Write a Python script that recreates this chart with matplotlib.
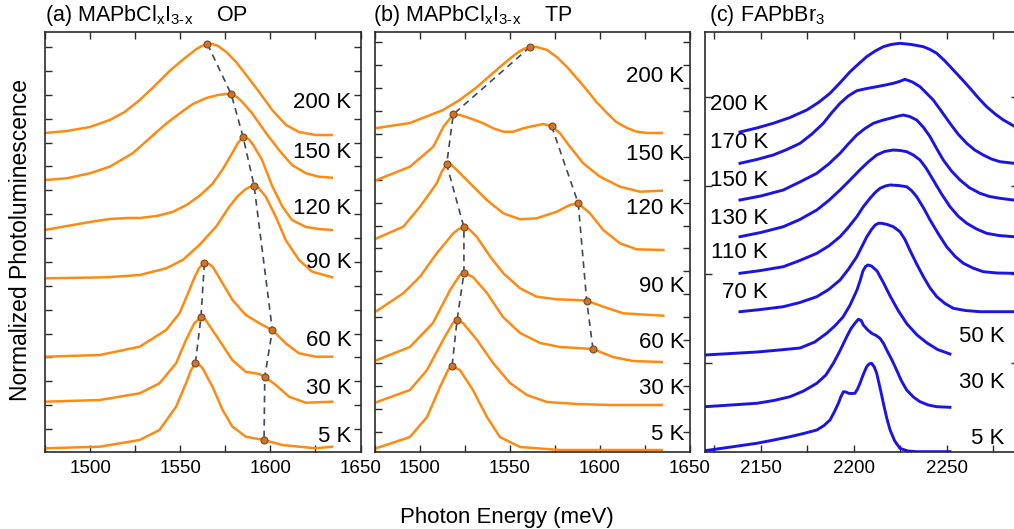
import numpy as np
import matplotlib.pyplot as plt
from matplotlib.ticker import MultipleLocator

plt.rcParams['font.family'] = ['Liberation Sans', 'DejaVu Sans']
plt.rcParams['mathtext.fontset'] = 'custom'
plt.rcParams['mathtext.rm'] = 'Liberation Sans'
plt.rcParams['mathtext.it'] = 'Liberation Sans'
plt.rcParams['mathtext.default'] = 'regular'

# ---------------- data (energies in meV, PL normalized + offset) ----------------
# (a) MAPbClxI3-x, orthorhombic phase
a_temps = ['200 K', '150 K', '120 K', '90 K', '60 K', '30 K', '5 K']
a_label_y = [350, 299, 244, 189, 112, 64, 15]
a_energy = [
    [1475, 1487.2, 1499.9, 1510.9, 1519.2, 1527.5, 1535.8, 1544.1, 1551.2, 1555.5, 1559, 1562, 1565, 1568, 1571, 1575.6, 1581, 1586.6, 1593.8, 1601, 1608.7, 1615.9, 1625, 1634],
    [1475, 1487.2, 1499.9, 1510.9, 1523.6, 1533, 1542.4, 1550, 1557, 1564.5, 1571, 1575, 1578.3, 1581.5, 1585, 1589.9, 1597.7, 1604.8, 1612, 1619.8, 1626.9, 1634.1],
    [1475, 1487.2, 1499.9, 1510.9, 1520.3, 1527.5, 1536.9, 1545.7, 1553.5, 1560.6, 1567.8, 1573.3, 1578.9, 1582, 1584.9, 1588, 1590.5, 1595.4, 1601, 1606.5, 1612, 1619.8, 1626.9, 1634.1],
    [1475.9, 1509.1, 1527.5, 1542.2, 1551.4, 1560.6, 1569.9, 1577.2, 1582, 1586, 1589, 1591, 1593.5, 1597.5, 1603, 1608.5, 1615.9, 1623.2, 1634.3],
    [1475, 1505.4, 1527.5, 1542.2, 1549.6, 1555.1, 1558, 1560.5, 1563.4, 1566, 1568, 1573.5, 1579, 1586.4, 1595.6, 1601.1, 1608.5, 1615.9, 1625.1, 1634.3],
    [1475, 1505.4, 1527.5, 1538.5, 1547.7, 1553.2, 1557.8, 1561.5, 1564, 1566, 1571.6, 1578.9, 1586.3, 1593.8, 1596.9, 1603, 1610.4, 1619.6, 1634.3],
    [1475, 1505.4, 1527.5, 1538.5, 1547.7, 1553.2, 1556, 1558.4, 1560.5, 1562.4, 1567.9, 1573.5, 1579, 1586.4, 1596.5, 1606.6, 1625.1, 1634.3],
]
a_pl = [
    [319, 321, 325, 332, 340, 352, 366, 381, 392, 398, 403, 406, 408, 408, 406, 400, 390, 377, 360, 342, 327, 320, 317, 317],
    [272, 273.7, 278.7, 285.3, 298.7, 313.7, 328.7, 339, 348, 354, 357, 358, 357.7, 355, 349, 338.7, 318.7, 302, 287, 278.7, 275.3, 274.3],
    [222, 226, 230, 233, 234, 234, 236, 240, 247, 256, 268, 282, 299, 309, 315, 313, 307, 292, 266, 246, 232, 225, 223, 222],
    [173.7, 174.7, 177, 183.7, 192, 207, 225.3, 245.3, 256, 262.5, 265.5, 266, 264, 255.3, 235.3, 212, 192, 180.3, 174.7],
    [95.3, 97, 105.3, 122, 138.7, 162, 175, 184, 188.7, 188, 185.3, 168.7, 152, 137, 127, 122, 108.7, 98.7, 95.3, 95.3],
    [50.3, 52, 58.7, 68.7, 88.7, 112, 128.7, 134.7, 132.5, 127, 112, 92, 80.3, 78, 75.3, 67, 55.3, 49.3, 50.3],
    [3.7, 5.3, 12, 22, 45.3, 68.7, 82, 88.7, 87.5, 83.7, 65.3, 42, 25.3, 15.3, 12, 7, 3.7, 5.3],
]
a_peak_hi_e = [1565.1, 1578.3, 1584.9, 1591, 1601.1, 1596.9, 1596.5]
a_peak_hi_i = [408, 357.7, 315, 266, 122, 75.3, 12]
a_peak_lo_e = [1563.4, 1561.5, 1558.4]
a_peak_lo_i = [188.7, 134.7, 88.7]

# (b) MAPbClxI3-x, tetragonal phase
b_temps = ['200 K', '150 K', '120 K', '90 K', '60 K', '30 K', '5 K']
b_label_y = [375, 297, 244, 165, 110, 64, 17]
b_energy = [
    [1476.1, 1494.4, 1512.8, 1522, 1531.7, 1538, 1544.4, 1549, 1553.9, 1557.5, 1561.1, 1565, 1570.6, 1576, 1581.7, 1587, 1592.8, 1598, 1603.9, 1609, 1615, 1620, 1626.1, 1634.4],
    [1475.9, 1494.4, 1507.4, 1513, 1518.5, 1522.2, 1527.8, 1535.2, 1540.7, 1546.3, 1551.9, 1557.4, 1563, 1568.5, 1573.1, 1577.8, 1583.3, 1590.7, 1600, 1611.1, 1622.2, 1634.3],
    [1475.9, 1490.7, 1500, 1509.3, 1512, 1514.8, 1517.5, 1520.4, 1527.8, 1537.1, 1546.3, 1555.6, 1564.8, 1575.9, 1583.3, 1587.9, 1594.4, 1601.8, 1611.1, 1620.4, 1635.2],
    [1475.9, 1490.7, 1500, 1509.3, 1518.5, 1521.5, 1524.4, 1527.5, 1531.5, 1539, 1546.3, 1555.6, 1564.8, 1575.9, 1587, 1592.6, 1601.8, 1612.9, 1635.2],
    [1476.1, 1494.4, 1507.2, 1516.7, 1522.2, 1524.4, 1529.4, 1537.2, 1546.1, 1555.6, 1566.7, 1577.8, 1587.2, 1596.1, 1607.2, 1618.3, 1634.4],
    [1476.1, 1494.4, 1503.9, 1512.8, 1518.3, 1520.6, 1523.9, 1531.7, 1540.6, 1550, 1559.4, 1570.6, 1587.2, 1605.6, 1634.4],
    [1476.1, 1494.4, 1503.9, 1511.1, 1515.6, 1517.8, 1522.2, 1529.4, 1537.2, 1544.4, 1555.6, 1577.8, 1634.4],
]
b_pl = [
    [324, 329, 342, 352, 365, 375, 385, 392, 399, 403, 405, 405, 402, 395, 385, 374, 362, 350, 339, 330, 324, 320.5, 319, 319],
    [272, 285.3, 305.3, 325.3, 337.7, 337, 333.7, 328.7, 323.7, 320.3, 320.3, 323.7, 326, 328, 326, 318.7, 305.3, 288.7, 275.3, 265.3, 260.3, 261.3],
    [213.7, 225.3, 245.3, 268.7, 280, 287.7, 287, 282, 268.7, 252, 238.7, 232.7, 233.7, 240.3, 247, 248.7, 238.7, 222, 208.7, 202.7, 202],
    [141, 158.7, 175.3, 198.7, 218.7, 223, 224.7, 222.5, 215.3, 195.3, 178.7, 163.7, 155.3, 152.7, 152, 151.3, 145.3, 138.7, 136.3],
    [92, 105, 129, 162, 177, 179, 175, 159, 135, 119, 109, 105, 104, 103, 95, 91, 90],
    [50, 62, 82, 112, 129, 132, 129, 112, 89, 69, 57, 50, 48, 47, 47],
    [4, 15, 35, 65, 82, 86, 82, 62, 35, 15, 5, 2, 2],
]
b_peak_lo_e = [1561.1, 1518.5, 1514.8, 1524.4, 1524.4, 1520.6, 1517.8]
b_peak_lo_i = [405, 337.7, 287.7, 224.7, 179, 132, 86]
b_peak_hi_e = [1573.1, 1587.9, 1592.6, 1596.1]
b_peak_hi_i = [326, 248.7, 151.3, 103]

# (c) FAPbBr3
c_temps = ['200 K', '170 K', '150 K', '130 K', '110 K', '70 K', '50 K', '30 K', '5 K']
c_label_y = [347, 309, 272, 234, 199, 159, 115, 69, 14]
c_energy = [
    [2138.8, 2147.8, 2156.7, 2165.7, 2174.7, 2181, 2187.2, 2193, 2198, 2202.5, 2206.9, 2211.5, 2215.9, 2220, 2224.8, 2231, 2237.4, 2241, 2244.6, 2249, 2253.5, 2258, 2262.5, 2267, 2271.4, 2276, 2280.4, 2286.1],
    [2138.8, 2147.8, 2156.7, 2164, 2171.1, 2177.5, 2183.6, 2188, 2192.6, 2197, 2201.6, 2207, 2212.3, 2217, 2221.2, 2224.5, 2227.5, 2231.5, 2235.6, 2239, 2242.7, 2247, 2251.7, 2256, 2260.7, 2265, 2269.6, 2274, 2278.6, 2286.1],
    [2138.8, 2150, 2162.1, 2171, 2180.1, 2186.5, 2192.6, 2197, 2201.6, 2206, 2210.5, 2215, 2219.5, 2223, 2226.6, 2230, 2233.8, 2237.5, 2241, 2244.5, 2248.1, 2252.5, 2257.1, 2262, 2267.8, 2273, 2278.6, 2285.8],
    [2138.8, 2150, 2162.1, 2171, 2180.1, 2186.5, 2192.6, 2198, 2203.2, 2208, 2212.3, 2216.5, 2221.2, 2225, 2228.4, 2232, 2235.6, 2239, 2242.7, 2247, 2251.7, 2256, 2260.7, 2266, 2271.4, 2278, 2285.8],
    [2138.8, 2150, 2162.1, 2171, 2180.1, 2186.5, 2192.6, 2197, 2201.6, 2205, 2208.7, 2211.5, 2214.1, 2217, 2219.5, 2224, 2228.4, 2231, 2233.8, 2237.5, 2241, 2245.5, 2249.9, 2254.5, 2258.9, 2264, 2269.6, 2277, 2285.8],
    [2138.8, 2150, 2162.1, 2171, 2180.1, 2186.5, 2192.6, 2197, 2201.6, 2204.5, 2207, 2209.5, 2211.5, 2213.3, 2215, 2218, 2221.2, 2224.8, 2227.5, 2230.1, 2233.8, 2237.4, 2241, 2244.6, 2249, 2253.5, 2260, 2267.8, 2285.8],
    [2120, 2134, 2148, 2160, 2171.1, 2179, 2185.6, 2190, 2194.2, 2198, 2201.7, 2203.5, 2204.9, 2206.3, 2207.6, 2209.5, 2212.5, 2216, 2219.5, 2224, 2228.6, 2234, 2239.4, 2245, 2251.7],
    [2120, 2134, 2147.8, 2157, 2165.7, 2173, 2180.1, 2185, 2189, 2192.5, 2196.2, 2198.5, 2200.6, 2202.4, 2204, 2205.1, 2207.5, 2209.6, 2212, 2214.1, 2216, 2217.7, 2220.5, 2223, 2225.5, 2228.4, 2232, 2235.6, 2240, 2244.6, 2251.7],
    [2120, 2134, 2147.8, 2157, 2165.7, 2173, 2180.1, 2184, 2187.2, 2189.5, 2191.7, 2193, 2194.4, 2195.8, 2197.1, 2199, 2200.6, 2202, 2203.3, 2205.2, 2206.9, 2208.2, 2209.6, 2211, 2212.3, 2214, 2215.9, 2217.7, 2219.5, 2222, 2224.8, 2229, 2233.8, 2251.7],
]
c_pl = [
    [320, 324, 328.7, 334.5, 342, 349.5, 358.7, 370, 380.3, 388, 395.3, 401, 405.3, 407.5, 408.7, 407.5, 405.3, 402.5, 398.7, 391, 382, 373, 363.7, 354, 345.3, 338, 332, 326],
    [288.7, 292.5, 297, 302.5, 308.7, 318, 328.7, 339, 348.7, 356, 361.3, 363.5, 365.3, 367, 368.7, 370.5, 372.7, 370, 365.3, 359, 352, 341, 328.7, 318, 308.7, 302, 297, 293, 290.3, 288.7],
    [252, 256, 262, 270, 278.7, 288, 298.7, 308, 317, 323.5, 328.7, 331.5, 333.7, 335.5, 337, 335.5, 332, 324.5, 315.3, 303.5, 292, 281, 272, 264.5, 258.7, 255.5, 253.7, 252],
    [215.3, 219.5, 225.3, 232.5, 242, 251.5, 262, 272, 282, 290.5, 297, 300.5, 302, 301.5, 300.3, 297, 292, 283.5, 272, 258.5, 245.3, 236, 228.7, 223, 218.7, 216.5, 215.3],
    [178.7, 181.5, 185.3, 191.5, 198.7, 206, 215.3, 224.5, 235.3, 245, 253.7, 259.5, 263.7, 266, 267, 266.5, 265.3, 261.5, 255.3, 244, 232, 218, 205.3, 195.5, 188.7, 184, 180.3, 179, 178.7],
    [140.3, 142.5, 145.3, 149.5, 155.3, 162.5, 172, 182.5, 195.3, 206, 215.3, 222.5, 227, 228.7, 228.7, 227.5, 225.3, 220.3, 212.5, 202, 188, 175.3, 164, 155.3, 148.5, 143.7, 141.5, 140.3, 140.3],
    [97, 98.5, 100, 102, 104, 110, 119, 126.5, 135, 147, 162, 172, 181, 185.5, 187, 186, 181, 169, 156, 141, 128, 117, 109, 102.5, 98],
    [45.3, 47, 48.7, 51.5, 55.3, 61, 68.7, 77, 88.7, 101, 115.3, 123.5, 128.7, 132.7, 131.5, 127, 122, 118.7, 116.5, 113.7, 108.5, 102, 92, 82, 71.5, 62, 55, 50.3, 47, 45.3, 44.7],
    [1.3, 5, 8.7, 12, 15.3, 18.5, 22, 26.5, 32, 40, 48.7, 55, 60.3, 60, 58.7, 58.5, 58.7, 63, 68.7, 78, 85.3, 88, 88.7, 85, 78.7, 65, 48.7, 34, 22, 11, 3.7, 1, 0.3, 0.3],
]

# ---------------- style ----------------
ORANGE = '#ff8a12'
BLUE = '#1a14e8'
DASH = '#3e4858'
MK_FACE = '#cf7428'
MK_EDGE = '#80481c'
SPINE = '#2b2b2b'

W, H = 1014, 529
fig = plt.figure(figsize=(W / 100, H / 100), dpi=100)


def add_panel(x0, x1, y0=32, y1=452):
    return fig.add_axes([x0 / W, 1 - y1 / H, (x1 - x0) / W, (y1 - y0) / H])


def style_axes(ax, xlim, yticks):
    ax.set_xlim(*xlim)
    ax.set_ylim(0, 420)
    ax.xaxis.set_major_locator(MultipleLocator(50))
    ax.xaxis.set_minor_locator(MultipleLocator(25))
    ax.set_yticks(yticks)
    ax.tick_params(which='both', direction='in', length=5, width=1.0,
                   top=True, right=True, labelleft=False, color=SPINE)
    ax.tick_params(axis='x', which='major', labelsize=13.5, pad=6)
    for s in ax.spines.values():
        s.set_linewidth(1.2)
        s.set_color(SPINE)


def draw_markers(ax, e, i):
    ax.plot(e, i, ls=(0, (4, 3)), color=DASH, lw=1.2, zorder=3)
    ax.plot(e, i, 'o', ms=5, mfc=MK_FACE, mec=MK_EDGE, mew=0.8, zorder=4)


# panel (a)
ax_a = add_panel(45, 360.5)
for e, i in zip(a_energy, a_pl):
    ax_a.plot(e, i, color=ORANGE, lw=1.8, zorder=2)
draw_markers(ax_a, a_peak_hi_e, a_peak_hi_i)
draw_markers(ax_a, a_peak_lo_e, a_peak_lo_i)
for t, y in zip(a_temps, a_label_y):
    ax_a.text(1645, y, t, ha='right', va='center', fontsize=16)
style_axes(ax_a, (1475, 1650), 23 + 23.875 * np.arange(17))

# panel (b)
ax_b = add_panel(375, 690)
for e, i in zip(b_energy, b_pl):
    ax_b.plot(e, i, color=ORANGE, lw=1.8, zorder=2)
draw_markers(ax_b, b_peak_lo_e, b_peak_lo_i)
draw_markers(ax_b, b_peak_hi_e, b_peak_hi_i)
for t, y in zip(b_temps, b_label_y):
    ax_b.text(1647, y, t, ha='right', va='center', fontsize=16)
style_axes(ax_b, (1475, 1650), 20 + 22.94 * np.arange(18))

# panel (c)
ax_c = add_panel(705, 1017.5)
for e, i in zip(c_energy, c_pl):
    ax_c.plot(e, i, color=BLUE, lw=2.1, zorder=2)
for k, (t, y) in enumerate(zip(c_temps, c_label_y)):
    if k < 6:
        ax_c.text(2154, y, t, ha='right', va='center', fontsize=16)
    else:
        ax_c.text(2281, y, t, ha='right', va='center', fontsize=16)
style_axes(ax_c, (2120, 2288), 89 + 88.7 * np.arange(4))

# titles and axis labels
fig.text(45 / W, 1 - 21 / H, r'(a) MAPbCl$_x$I$_{\text{3-x}}$    OP', fontsize=15.5, va='baseline')
fig.text(373 / W, 1 - 21 / H, r'(b) MAPbCl$_x$I$_{\text{3-x}}$    TP', fontsize=15.5, va='baseline')
fig.text(709 / W, 1 - 21 / H, r'(c) FAPbBr$_3$', fontsize=15.5, va='baseline')
fig.text(507 / W, 1 - 518 / H, 'Photon Energy (meV)', fontsize=16, ha='center', va='center')
fig.text(21 / W, 1 - 240 / H, 'Normalized Photoluminescence', fontsize=16.5,
         rotation=90, ha='center', va='center')

fig.savefig('out.png', dpi=100)
